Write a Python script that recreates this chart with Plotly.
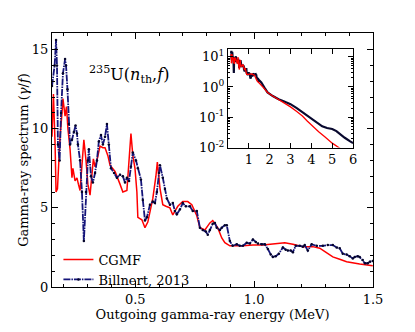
import plotly.graph_objects as go

# CGMF calculation (main panel)
cgmf_e = [0.150, 0.156, 0.163, 0.167, 0.173, 0.177, 0.184, 0.192, 0.196, 0.205, 0.211, 0.217,
          0.226, 0.234, 0.238, 0.247, 0.255, 0.261, 0.268, 0.276, 0.284, 0.293, 0.301, 0.310,
          0.318, 0.324, 0.331, 0.339, 0.352, 0.364, 0.373, 0.385, 0.394, 0.415, 0.436, 0.448,
          0.465, 0.478, 0.482, 0.490, 0.499, 0.507, 0.511, 0.528, 0.541, 0.553, 0.574, 0.587,
          0.593, 0.604, 0.616, 0.629, 0.646, 0.658, 0.679, 0.700, 0.721, 0.738, 0.759, 0.772,
          0.793, 0.814, 0.826, 0.847, 0.864, 0.877, 0.898, 0.953, 0.995, 1.037, 1.079, 1.108,
          1.129, 1.163, 1.205, 1.247, 1.276, 1.301, 1.331, 1.360, 1.389, 1.444, 1.499]
cgmf_y = [9.5, 12.2, 9.0, 6.0, 6.2, 7.5, 9.5, 11.0, 11.9, 10.8, 11.4, 10.0,
          8.7, 6.9, 7.5, 6.7, 6.9, 6.5, 6.1, 7.7, 9.3, 8.0, 6.5, 5.8,
          6.9, 8.1, 7.6, 8.0, 8.9, 8.8, 8.8, 8.3, 7.7, 7.3, 6.5, 6.0,
          6.1, 8.5, 9.7, 8.3, 7.5, 6.0, 4.4, 4.25, 3.75, 4.1, 5.6, 7.0,
          7.9, 6.25, 5.2, 5.1, 5.0, 4.55, 5.1, 5.4, 5.4, 5.2, 4.5, 3.75,
          3.6, 4.05, 4.2, 3.75, 3.1, 2.8, 2.6, 2.6, 2.65, 2.65, 2.7, 2.75,
          2.8, 2.7, 2.55, 2.55, 2.45, 2.2, 1.9, 1.75, 1.6, 1.45, 1.35]

# Billnert, 2013 measurement (main panel)
bill_e = [0.150, 0.161, 0.167, 0.171, 0.175, 0.182, 0.188, 0.196, 0.205, 0.209, 0.215, 0.221,
          0.226, 0.234, 0.242, 0.249, 0.255, 0.259, 0.268, 0.276, 0.284, 0.293, 0.301, 0.305,
          0.314, 0.322, 0.331, 0.339, 0.347, 0.356, 0.364, 0.373, 0.381, 0.389, 0.398, 0.411,
          0.423, 0.436, 0.448, 0.457, 0.465, 0.474, 0.482, 0.490, 0.503, 0.511, 0.524, 0.532,
          0.541, 0.549, 0.562, 0.574, 0.583, 0.591, 0.600, 0.604, 0.616, 0.625, 0.633, 0.646,
          0.658, 0.667, 0.675, 0.688, 0.700, 0.713, 0.730, 0.742, 0.759, 0.772, 0.784, 0.797,
          0.805, 0.814, 0.826, 0.835, 0.843, 0.856, 0.864, 0.877, 0.885, 0.898, 0.910, 0.927,
          0.940, 0.953, 0.969, 0.982, 0.995, 1.007, 1.016, 1.032, 1.045, 1.058, 1.070, 1.079,
          1.091, 1.104, 1.121, 1.133, 1.142, 1.154, 1.163, 1.175, 1.192, 1.205, 1.213, 1.226,
          1.242, 1.263, 1.289, 1.310, 1.331, 1.347, 1.360, 1.373, 1.389, 1.402, 1.415, 1.423,
          1.436, 1.444, 1.457, 1.466, 1.478, 1.487, 1.499]
bill_y = [12.7, 14.0, 15.6, 14.0, 9.0, 8.0, 11.0, 13.5, 14.4, 14.0, 12.5, 10.3,
          9.0, 9.3, 9.8, 10.2, 9.7, 9.0, 8.0, 6.0, 2.9, 6.0, 8.0, 8.7,
          7.0, 6.6, 7.2, 8.0, 9.2, 9.6, 9.0, 9.5, 10.3, 9.0, 7.5, 7.2,
          6.9, 7.1, 7.0, 6.6, 6.9, 6.7, 7.6, 8.5, 8.0, 7.5, 6.8, 5.5,
          4.2, 4.4, 5.2, 5.4, 5.3, 6.0, 7.2, 7.7, 6.9, 6.2, 5.6, 5.2,
          5.3, 4.8, 4.6, 4.9, 5.3, 5.1, 5.1, 4.8, 4.8, 3.75, 3.6, 3.5,
          3.3, 3.6, 4.0, 4.05, 3.75, 3.6, 3.75, 3.9, 3.9, 2.9, 2.6, 2.7,
          2.6, 2.6, 2.8, 2.75, 3.0, 2.85, 2.75, 2.7, 2.7, 2.4, 2.05, 1.9,
          1.95, 2.1, 2.5, 2.35, 2.3, 2.3, 2.2, 2.6, 2.6, 2.55, 2.65, 2.3,
          2.7, 2.6, 2.6, 2.65, 2.65, 2.5, 2.45, 2.1, 2.05, 1.95, 1.8, 1.9,
          1.95, 1.9, 1.7, 1.5, 1.5, 1.6, 1.65]

# high-energy tails shown only in the inset
cgmf_tail_e = [1.7, 1.9, 2.15, 2.43, 2.7, 3.0, 3.3, 3.57, 3.8, 4.05, 4.35, 4.67, 5.0, 5.38, 5.6]
cgmf_tail_y = [0.95, 0.66, 0.5, 0.38, 0.3, 0.22, 0.155, 0.11, 0.075, 0.05, 0.033, 0.022, 0.014, 0.0093, 0.007]
bill_tail_e = [1.6, 1.75, 1.9, 2.15, 2.43, 2.7, 3.0, 3.3, 3.57, 3.8, 4.05, 4.3, 4.52, 4.75, 5.0, 5.2, 5.38, 5.6, 5.86, 6.0]
bill_tail_y = [1.4, 0.95, 0.66, 0.5, 0.39, 0.33, 0.27, 0.2, 0.145, 0.11, 0.085, 0.065, 0.05, 0.044, 0.041, 0.035, 0.0275, 0.021, 0.016, 0.014]

# inset log-axis ticks
inset_ytick_vals = [0.01, 0.1, 1, 10]
inset_ytick_text = ["10<sup>-2</sup>", "10<sup>-1</sup>", "10<sup>0</sup>", "10<sup>1</sup>"]
inset_minor_vals = [m * 10 ** p for p in (-2, -1, 0, 1) for m in range(2, 10) if m * 10 ** p < 18]

RED = "#ff0000"
NAVY = "#15157a"
DOT = "#05052a"
FONT = "DejaVu Serif"

fig = go.Figure()

fig.add_trace(go.Scatter(x=cgmf_e, y=cgmf_y, mode="lines", name="CGMF",
                         line=dict(color=RED, width=1.5)))
fig.add_trace(go.Scatter(x=bill_e, y=bill_y, mode="lines+markers", name="Billnert, 2013",
                         line=dict(color=NAVY, width=1.8, dash="7px,1px,1.5px,1px"),
                         marker=dict(color=DOT, size=2.5)))

# inset
fig.add_trace(go.Scatter(x=bill_e + bill_tail_e, y=bill_y + bill_tail_y, mode="lines",
                         line=dict(color="#08082e", width=2.2), showlegend=False,
                         xaxis="x2", yaxis="y2"))
fig.add_trace(go.Scatter(x=cgmf_e + cgmf_tail_e, y=cgmf_y + cgmf_tail_y, mode="lines",
                         line=dict(color=RED, width=1.3), showlegend=False,
                         xaxis="x2", yaxis="y2"))

axis_common = dict(showline=True, linecolor="black", linewidth=1, mirror="ticks",
                   ticks="inside", tickcolor="black", showgrid=False, zeroline=False,
                   tickfont=dict(family=FONT, size=13, color="black"))

fig.update_layout(
    width=407, height=324,
    margin=dict(l=44, r=42, t=25, b=42),
    paper_bgcolor="white", plot_bgcolor="white",
    font=dict(family=FONT, size=13, color="black"),
    xaxis=dict(range=[0.15, 1.5], tickvals=[0.5, 1.0, 1.5], ticktext=["0.5", "1.0", "1.5"],
               ticklen=6,
               minor=dict(dtick=0.1, tick0=0, ticks="inside", ticklen=3, tickcolor="black"),
               title=dict(text="Outgoing gamma-ray energy (MeV)", standoff=4,
                          font=dict(family=FONT, size=13)),
               **axis_common),
    yaxis=dict(range=[0, 16.05], tickvals=[0, 5, 10, 15], ticklen=6,
               minor=dict(dtick=1, tick0=0, ticks="inside", ticklen=3, tickcolor="black"),
               title=dict(text="Gamma-ray spectrum (<i>γ</i>/<i>f</i>)", standoff=0,
                          font=dict(family=FONT, size=13)),
               **axis_common),
    xaxis2=dict(domain=[0.548, 0.938], anchor="y2", range=[0, 6],
                tickvals=[1, 2, 3, 4, 5, 6], ticklen=5, **axis_common),
    yaxis2=dict(domain=[0.549, 0.938], anchor="x2", type="log", range=[-2, 1.26],
                tickvals=inset_ytick_vals, ticktext=inset_ytick_text, ticklen=5,
                minor=dict(tickmode="array", tickvals=inset_minor_vals,
                           ticks="inside", ticklen=2, tickcolor="black"),
                **axis_common),
    legend=dict(x=0.02, y=-0.03, xanchor="left", yanchor="bottom",
                bgcolor="rgba(0,0,0,0)", font=dict(family=FONT, size=13),
                tracegroupgap=0, itemwidth=30),
    showlegend=True,
)

fig.add_annotation(x=0.24, y=0.837, xref="paper", yref="paper", showarrow=False,
                   xanchor="center", yanchor="middle",
                   text="<sup>235</sup>U(<i>n</i><sub>th</sub>,<i>f</i>)",
                   font=dict(family=FONT, size=16, color="black"))

fig.write_html("out.html")
